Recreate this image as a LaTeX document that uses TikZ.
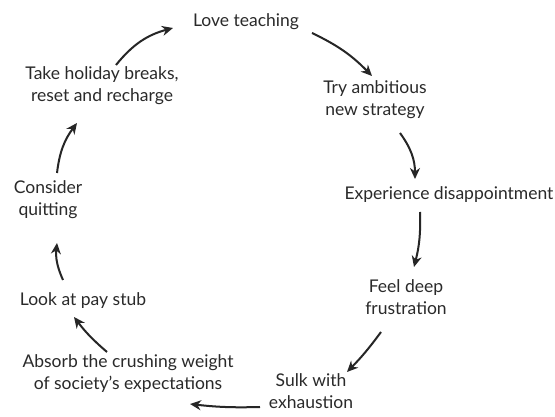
\documentclass[tikz,border=0pt]{standalone}
\usepackage{fontspec}
\setmainfont{Lato}
\usetikzlibrary{arrows.meta,calc}
\definecolor{ink}{HTML}{2A2A2A}
\tikzset{
  lbl/.style={text=ink, align=center, inner sep=0pt, font=\fontsize{17.5}{22}\selectfont},
  arr/.style={draw=ink!90!black, line width=2pt, -{Stealth[length=11pt,width=10pt]}},
}
\begin{document}
\begin{tikzpicture}[x=1pt,y=1pt]
\useasboundingbox[fill=white] (0,0) rectangle (555,417);
\node[lbl] (love) at (246,395) {Love teaching};
\node[lbl] (hol)  at (102,331) {Take holiday breaks,\\reset and recharge};
\node[lbl] (try)  at (375,317) {Try ambitious\\new strategy};
\node[lbl] (exp)  at (449,222) {Experience disappointment};
\node[lbl] (cons) at (48,217)  {Consider\\quitting};
\node[lbl] (feel) at (406,120) {Feel deep\\frustration};
\node[lbl] (look) at (83,116)  {Look at pay stub};
\node[lbl] (abs)  at (128,43)  {Absorb the crushing weight\\of society's expectations};
\node[lbl] (sulk) at (311,26)  {Sulk with\\exhaustion};
\draw[arr] ($(hol)+(14,21)$) to[bend left=18] ($(love)+(-73,-6)$);
\draw[arr] ($(love)+(66,-11)$) to[bend left=10] ($(try)+(-3,24)$);
\draw[arr] ($(try)+(25,-33)$) to[bend left=18] ($(exp)+(-34,16)$);
\draw[arr] ($(exp)+(-29,-17)$) to[bend left=8] ($(feel)+(8,30)$);
\draw[arr] ($(feel)+(-25,-35)$) to[bend left=4] ($(sulk)+(36,19)$);
\draw[arr] ($(sulk)+(-51,-16)$) to[bend left=4] ($(abs)+(62,-30)$);
\draw[arr] ($(abs)+(-21,22)$) to[bend left=6] ($(look)+(-9,-16)$);
\draw[arr] ($(look)+(-20,21)$) to[bend left=15] ($(cons)+(9,-43)$);
\draw[arr] ($(cons)+(9,27)$) to[bend left=15] ($(hol)+(-25,-37)$);
\end{tikzpicture}
\end{document}
